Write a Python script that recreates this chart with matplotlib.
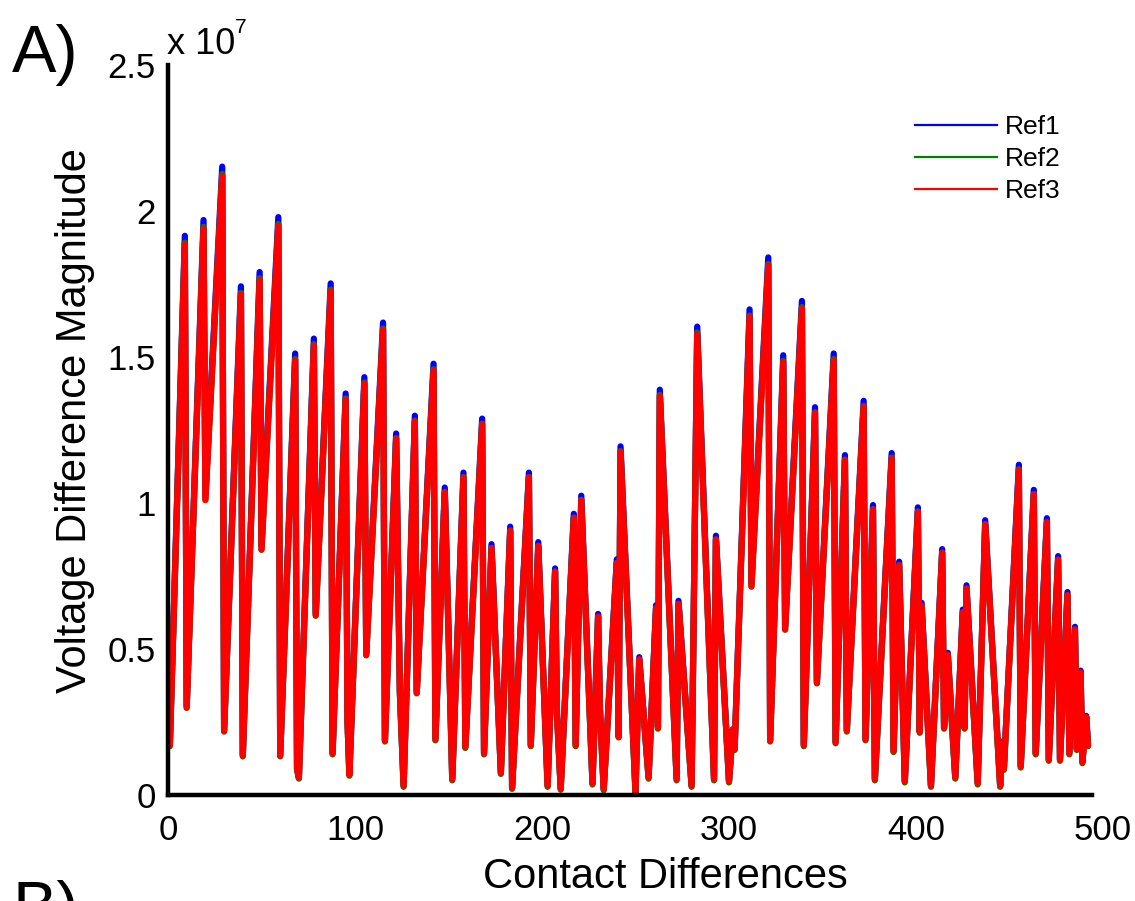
import matplotlib
matplotlib.use("Agg")
import matplotlib.pyplot as plt
from matplotlib.lines import Line2D

plt.rcParams['font.family'] = ['Liberation Sans', 'DejaVu Sans']

# contact difference index (peaks / troughs)
contact = [1, 9, 10, 19, 20, 29, 30, 39, 40, 49, 50, 59, 60, 68, 69, 70, 78, 79,
           87, 88, 95, 96, 97, 105, 106, 115, 116, 122, 124, 126, 132, 133, 142, 143,
           148, 150, 152, 158, 159, 168, 169, 173, 178, 183, 184, 193, 194, 198, 203,
           207, 208, 210, 217, 218, 221, 227, 230, 231, 233, 240, 241, 242, 250, 252,
           257, 261, 262, 263, 272, 273, 280, 283, 292, 293, 300, 302, 303, 311, 312,
           321, 322, 329, 330, 339, 340, 346, 347, 356, 357, 362, 363, 372, 373, 377,
           378, 387, 388, 391, 394, 401, 402, 403, 408, 414, 415, 417, 421, 425, 426,
           427, 433, 437, 445, 446, 447, 455, 456, 463, 464, 470, 471, 476, 477, 481,
           482, 485, 486, 488, 489, 491, 492]

# voltage difference magnitude, units of 1e7
ref3 = [0.170, 1.887, 0.300, 1.940, 1.010, 2.120, 0.220, 1.716, 0.135, 1.765, 0.840,
        1.950, 0.135, 1.490, 0.090, 0.060, 1.540, 0.615, 1.726, 0.142, 1.355, 0.250,
        0.070, 1.410, 0.480, 1.594, 0.186, 1.220, 0.350, 0.032, 1.280, 0.350, 1.455,
        0.190, 1.037, 0.557, 0.054, 1.088, 0.164, 1.270, 0.142, 0.846, 0.076, 0.905,
        0.025, 1.088, 0.170, 0.853, 0.032, 0.765, 0.280, 0.022, 0.949, 0.170, 1.010,
        0.040, 0.611, 0.290, 0.020, 0.795, 0.200, 1.176, 0.010, 0.465, 0.060, 0.640,
        0.230, 1.367, 0.054, 0.655, 0.032, 1.580, 0.054, 0.875, 0.047, 0.222, 0.157,
        1.638, 0.714, 1.814, 0.186, 1.484, 0.567, 1.667, 0.170, 1.308, 0.384, 1.490,
        0.180, 1.147, 0.220, 1.330, 0.190, 0.978, 0.054, 1.154, 0.150, 0.787, 0.047,
        0.970, 0.216, 0.648, 0.032, 0.830, 0.230, 0.480, 0.060, 0.626, 0.230, 0.707,
        0.040, 0.927, 0.032, 0.180, 0.090, 1.114, 0.098, 1.030, 0.142, 0.934, 0.120,
        0.806, 0.120, 0.685, 0.142, 0.567, 0.157, 0.420, 0.113, 0.267, 0.170]

ref1 = [0.173, 1.915, 0.305, 1.969, 1.025, 2.152, 0.223, 1.742, 0.137, 1.791, 0.853,
        1.979, 0.137, 1.512, 0.091, 0.061, 1.563, 0.624, 1.752, 0.144, 1.375, 0.254,
        0.071, 1.431, 0.487, 1.618, 0.189, 1.238, 0.355, 0.032, 1.299, 0.355, 1.477,
        0.193, 1.053, 0.565, 0.055, 1.104, 0.166, 1.289, 0.144, 0.859, 0.077, 0.919,
        0.025, 1.104, 0.173, 0.866, 0.032, 0.776, 0.284, 0.022, 0.963, 0.173, 1.025,
        0.041, 0.620, 0.294, 0.020, 0.807, 0.203, 1.194, 0.010, 0.472, 0.061, 0.650,
        0.233, 1.388, 0.055, 0.665, 0.032, 1.604, 0.055, 0.888, 0.048, 0.225, 0.159,
        1.663, 0.725, 1.841, 0.189, 1.506, 0.576, 1.692, 0.173, 1.328, 0.390, 1.512,
        0.183, 1.164, 0.223, 1.350, 0.193, 0.993, 0.055, 1.171, 0.152, 0.799, 0.048,
        0.985, 0.219, 0.658, 0.032, 0.842, 0.233, 0.487, 0.061, 0.635, 0.233, 0.718,
        0.041, 0.941, 0.032, 0.183, 0.091, 1.131, 0.099, 1.045, 0.144, 0.948, 0.122,
        0.818, 0.122, 0.695, 0.144, 0.576, 0.159, 0.426, 0.115, 0.271, 0.173]

ref2 = [0.167, 1.892, 0.298, 1.946, 1.011, 2.127, 0.217, 1.720, 0.132, 1.770, 0.840,
        1.956, 0.132, 1.493, 0.086, 0.056, 1.544, 0.614, 1.731, 0.139, 1.358, 0.247,
        0.066, 1.413, 0.478, 1.598, 0.183, 1.222, 0.348, 0.028, 1.282, 0.348, 1.458,
        0.187, 1.038, 0.556, 0.050, 1.089, 0.161, 1.272, 0.139, 0.846, 0.072, 0.906,
        0.021, 1.089, 0.167, 0.853, 0.028, 0.765, 0.277, 0.018, 0.950, 0.167, 1.011,
        0.036, 0.610, 0.287, 0.016, 0.795, 0.197, 1.178, 0.006, 0.463, 0.056, 0.639,
        0.227, 1.370, 0.050, 0.654, 0.028, 1.584, 0.050, 0.875, 0.043, 0.219, 0.154,
        1.642, 0.714, 1.819, 0.183, 1.487, 0.566, 1.671, 0.167, 1.311, 0.382, 1.493,
        0.177, 1.149, 0.217, 1.333, 0.187, 0.979, 0.050, 1.156, 0.147, 0.787, 0.043,
        0.971, 0.213, 0.647, 0.028, 0.830, 0.227, 0.478, 0.056, 0.625, 0.227, 0.707,
        0.036, 0.928, 0.028, 0.177, 0.086, 1.116, 0.094, 1.031, 0.139, 0.935, 0.117,
        0.806, 0.117, 0.684, 0.139, 0.566, 0.154, 0.418, 0.109, 0.264, 0.167]

series = [("Ref1", ref1, "#0000ff"), ("Ref2", ref2, "#008000"), ("Ref3", ref3, "#ff0000")]
xticks = [0, 100, 200, 300, 400, 500]
yticks = [0, 0.5, 1, 1.5, 2, 2.5]

fig = plt.figure(figsize=(11.35, 9.01), dpi=100)
ax = fig.add_axes([168 / 1135, 1 - 795 / 901, 935 / 1135, 730 / 901])

for name, vals, col in series:
    ax.plot(contact, vals, color=col, lw=4.5, solid_joinstyle="round",
            solid_capstyle="round")

ax.set_xlim(0, 500)
ax.set_ylim(0, 2.5)
ax.set_xticks(xticks)
ax.set_yticks(yticks)
ax.set_xticklabels([str(t) for t in xticks])
ax.set_yticklabels(["%g" % t for t in yticks])
ax.tick_params(axis="both", length=0, labelsize=25)
ax.tick_params(axis="x", pad=14)
ax.tick_params(axis="y", pad=9)

for s in ["top", "right"]:
    ax.spines[s].set_visible(False)
for s in ["left", "bottom"]:
    ax.spines[s].set_linewidth(3.2)
ax.spines["bottom"].set_bounds(0, 494)

ax.set_xlabel("Contact Differences", fontsize=30)
ax.set_ylabel("Voltage Difference Magnitude", fontsize=30)
ax.xaxis.set_label_coords(0.532, -0.085)
ax.yaxis.set_label_coords(-0.078, 0.513)

handles = [Line2D([], [], color=c, lw=1.6) for _, _, c in series]
ax.legend(handles, [n for n, _, _ in series], loc="upper left",
          bbox_to_anchor=(915 / 1135, 1 - 115 / 901), bbox_transform=fig.transFigure,
          frameon=False, fontsize=19, handlelength=3.1, handletextpad=0.3,
          labelspacing=0.3, borderpad=0, borderaxespad=0)

fig.text(12 / 1135, 1 - 72 / 901, "A)", fontsize=48, va="baseline")
fig.text(12 / 1135, 1 - 928 / 901, "B)", fontsize=48, va="baseline")
fig.text(167 / 1135, 1 - 54 / 901, "x 10", fontsize=26, va="baseline")
fig.text(235 / 1135, 1 - 33 / 901, "7", fontsize=15, va="baseline")

fig.savefig("out.png", dpi=100)
